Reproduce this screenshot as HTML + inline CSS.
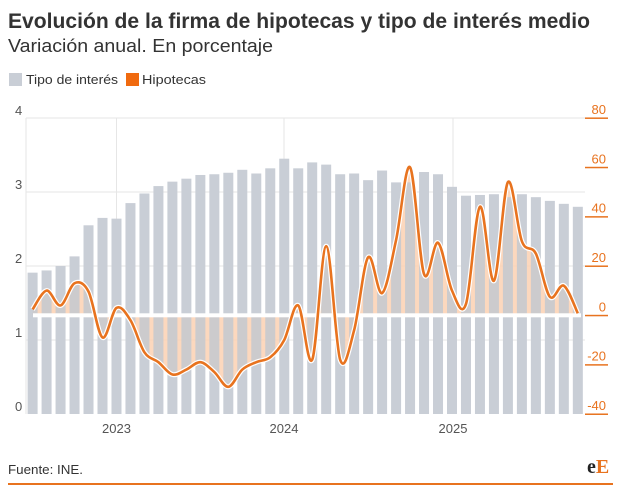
<!DOCTYPE html>
<html><head><meta charset="utf-8"><style>
html,body{margin:0;padding:0;background:#fff;}
svg{display:block;font-family:"Liberation Sans",sans-serif;}
</style></head><body>
<svg id="c" width="622" height="500" viewBox="0 0 622 500" xmlns="http://www.w3.org/2000/svg">
<text x="8" y="28" font-size="21" font-weight="bold" fill="#333" textLength="582" lengthAdjust="spacingAndGlyphs">Evolución de la firma de hipotecas y tipo de interés medio</text>
<text x="8" y="52" font-size="18" fill="#333" textLength="265" lengthAdjust="spacingAndGlyphs">Variación anual. En porcentaje</text>
<rect x="9" y="73" width="13" height="13" fill="#c9ced6"/>
<text x="26" y="84" font-size="13" fill="#333" textLength="92" lengthAdjust="spacingAndGlyphs">Tipo de interés</text>
<rect x="126" y="73" width="13" height="13" fill="#f06a0f"/>
<text x="142" y="84" font-size="13" fill="#333" textLength="64" lengthAdjust="spacingAndGlyphs">Hipotecas</text>
<g id="grid" stroke="#e6e6e6" stroke-width="1"></g>
<g id="under"></g>
<g id="bars"></g>
<g id="over"></g>
<text x="8" y="474" font-size="13" fill="#333" textLength="75" lengthAdjust="spacingAndGlyphs">Fuente: INE.</text>
<text x="587" y="473" font-size="20" font-weight="bold" font-family="Liberation Serif,serif" fill="#222">e<tspan fill="#e8731f">E</tspan></text>
<rect x="8" y="483" width="605" height="2" fill="#e8731f"/>
</svg>
<script>
var NS="http://www.w3.org/2000/svg";
function el(p,t,a,txt){var e=document.createElementNS(NS,t);for(var k in a)e.setAttribute(k,a[k]);if(txt!=null)e.textContent=txt;p.appendChild(e);return e;}
var bars=[1.91,1.94,2.0,2.13,2.55,2.65,2.64,2.85,2.98,3.08,3.14,3.18,3.23,3.24,3.26,3.30,3.25,3.32,3.45,3.32,3.40,3.37,3.24,3.25,3.16,3.29,3.13,3.13,3.27,3.24,3.07,2.95,2.96,2.97,2.93,2.97,2.93,2.88,2.84,2.80];
var line=[2.4,10,4,13,9.6,-9,3,-2,-15,-19,-24,-22,-19,-23,-29,-22,-19,-17,-10,4,-18,28,-18,-6,23.5,9,30.5,60,16.7,29.4,10,4.6,44,14,54,30,25,7.5,12,0.8];
var svg=document.getElementById('c'),g=document.getElementById('grid'),b=document.getElementById('bars'),o=document.getElementById('over'),u=document.getElementById('under');
function yl(v){return 414-v*74;}
function yr(v){return 315.3-v*2.467;}
function xc(i){return 32.6+i*13.98;}
for(var v=1;v<=4;v++)el(g,'line',{x1:26,x2:585,y1:yl(v),y2:yl(v)});
el(g,'line',{x1:26,x2:26,y1:118,y2:414});
[116.5,284,453].forEach(function(x){el(g,'line',{x1:x,x2:x,y1:118,y2:414});});
for(var v=0;v<=4;v++)el(svg,'text',{x:15,y:yl(v)-3,'font-size':13,fill:'#555'},String(v));
for(var v=-40;v<=80;v+=20){el(svg,'rect',{x:585,y:yr(v)-0.5,width:23,height:1.5,fill:'#e8731f'});el(svg,'text',{x:606,y:yr(v)-4,'font-size':13,fill:'#e8731f','text-anchor':'end'},String(v));}
[[116.5,'2023'],[284,'2024'],[453,'2025']].forEach(function(a){el(svg,'text',{x:a[0],y:433,'font-size':13,fill:'#555','text-anchor':'middle'},a[1]);});
bars.forEach(function(v,i){el(b,'rect',{x:xc(i)-5,y:yl(v),width:10,height:414-yl(v),fill:'#c9ced6'});});
var P=line.map(function(v,i){return [xc(i),yr(v)];});
var d='M'+P[0][0]+','+P[0][1];
for(var i=0;i<P.length-1;i++){var p0=P[Math.max(0,i-1)],p1=P[i],p2=P[i+1],p3=P[Math.min(P.length-1,i+2)];
var c1x=p1[0]+(p2[0]-p0[0])/6,c1y=p1[1]+(p2[1]-p0[1])/6,c2x=p2[0]-(p3[0]-p1[0])/6,c2y=p2[1]-(p3[1]-p1[1])/6;
d+=' C'+c1x.toFixed(2)+','+c1y.toFixed(2)+' '+c2x.toFixed(2)+','+c2y.toFixed(2)+' '+p2[0].toFixed(2)+','+p2[1].toFixed(2);}
var z=yr(0);
var area=d+' L'+P[P.length-1][0]+','+z+' L'+P[0][0]+','+z+' Z';
el(u,'path',{d:area,fill:'#fbd3b6','fill-opacity':0.8});
el(o,'path',{d:area,fill:'#f8a46a','fill-opacity':0.07});
el(o,'rect',{x:33,y:z-2,width:548,height:4,fill:'#fff'});
el(o,'path',{d:d,fill:'none',stroke:'#fff','stroke-width':5,'stroke-linejoin':'round'});
el(o,'path',{d:d,fill:'none',stroke:'#e8731f','stroke-width':2.6,'stroke-linejoin':'round'});
</script>
</body></html>
